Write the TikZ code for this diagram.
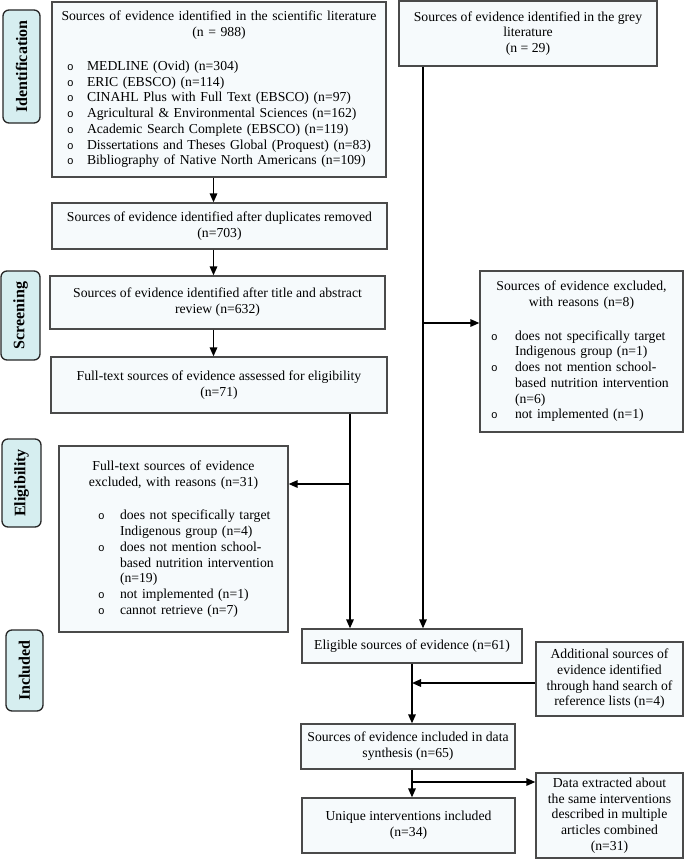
\documentclass[tikz,border=0pt]{standalone}
\usepackage{fontspec}
\setmainfont{Liberation Serif}
\newfontfamily\bulfont{Liberation Mono}
\usetikzlibrary{arrows.meta}
\definecolor{boxfill}{HTML}{F6FAFC}
\definecolor{labfill}{HTML}{D6EEF0}
\definecolor{boxline}{HTML}{4A4A4A}
\newcommand\bul{{\bulfont\fontsize{11}{11}\selectfont o}}
\newcommand\nl{\hfill\break}
\newcommand\bitem[3]{\par\noindent\hangindent=#2\hangafter=1\hspace*{#1}\makebox[\dimexpr#2-#1\relax][l]{\bul}#3}
\newcommand\ttl[1]{{\centering #1\par}\vspace{18pt}}
\begin{document}
\begin{tikzpicture}[x=1pt,y=-1pt, font=\fontsize{13.7}{15.75}\selectfont,
 box/.style={draw=boxline, line width=1.3pt, fill=boxfill, inner sep=0pt, align=center},
 lbox/.style={box, align=left},
 lab/.style={draw=black!85, line width=1.3pt, fill=labfill, rounded corners=6pt, inner sep=0pt, rotate=90, font=\fontsize{16}{16}\selectfont\bfseries},
 arr/.style={line width=1.6pt, -{Triangle[length=9pt,width=7.5pt]}},
 ln/.style={line width=1.6pt}]
\useasboundingbox (0,0) rectangle (685,859);
% phase labels
\node[lab, minimum width=113pt, minimum height=37pt] (L1) at (21.5,66.5) {Identification};
\node[lab, minimum width=89pt, minimum height=39pt] (L2) at (20.5,315.5) {Screening};
\node[lab, minimum width=88pt, minimum height=39pt] (L3) at (21.5,483) {Eligibility};
\node[lab, minimum width=81pt, minimum height=37pt] (L4) at (24.5,670.5) {Included};
% boxes
\node[lbox, minimum width=334pt, minimum height=175pt, text width=334pt] (b1) at (219,89.5) {%
\ttl{Sources of evidence identified in the scientific literature\\(n = 988)}%
\bitem{15pt}{35pt}{MEDLINE (Ovid) (n=304)}%
\bitem{15pt}{35pt}{ERIC (EBSCO) (n=114)}%
\bitem{15pt}{35pt}{CINAHL Plus with Full Text (EBSCO) (n=97)}%
\bitem{15pt}{35pt}{Agricultural \& Environmental Sciences (n=162)}%
\bitem{15pt}{35pt}{Academic Search Complete (EBSCO) (n=119)}%
\bitem{15pt}{35pt}{Dissertations and Theses Global (Proquest) (n=83)}%
\bitem{15pt}{35pt}{Bibliography of Native North Americans (n=109)}\par};
\node[box, minimum width=258pt, minimum height=65pt] (b2) at (528,33.5) {Sources of evidence identified in the grey\\literature\\(n = 29)};
\node[box, minimum width=335pt, minimum height=46pt] (b3) at (219.5,226) {Sources of evidence identified after duplicates removed\\(n=703)};
\node[box, minimum width=335pt, minimum height=53pt] (b4) at (217.5,302.5) {Sources of evidence identified after title and abstract\\review (n=632)};
\node[box, minimum width=336pt, minimum height=56pt] (b5) at (219,385) {Full-text sources of evidence assessed for eligibility\\(n=71)};
\node[lbox, minimum width=229pt, minimum height=186pt, text width=229pt] (b6) at (173.5,539) {%
\ttl{Full-text sources of evidence\\excluded, with reasons (n=31)}%
\bitem{39pt}{61pt}{does not specifically target\nl Indigenous group (n=4)}%
\bitem{39pt}{61pt}{does not mention school-\nl based nutrition intervention\nl (n=19)}%
\bitem{39pt}{61pt}{not implemented (n=1)}%
\bitem{39pt}{61pt}{cannot retrieve (n=7)}\par};
\node[lbox, minimum width=203pt, minimum height=161pt, text width=203pt] (b7) at (581.5,351.5) {%
\ttl{Sources of evidence excluded,\\with reasons (n=8)}%
\bitem{11pt}{35pt}{does not specifically target\nl Indigenous group (n=1)}%
\bitem{11pt}{35pt}{does not mention school-\nl based nutrition intervention\nl (n=6)}%
\bitem{11pt}{35pt}{not implemented (n=1)}\par};
\node[box, minimum width=220pt, minimum height=34pt] (b8) at (412,646) {Eligible sources of evidence (n=61)};
\node[box, minimum width=147pt, minimum height=74pt] (b9) at (609.5,679) {Additional sources of\\evidence identified\\through hand search of\\reference lists (n=4)};
\node[box, minimum width=214pt, minimum height=45pt] (b10) at (408,746.5) {Sources of evidence included in data\\synthesis (n=65)};
\node[box, minimum width=213pt, minimum height=55pt] (b11) at (408.5,825.5) {Unique interventions included\\(n=34)};
\node[box, minimum width=147pt, minimum height=85pt] (b12) at (609.5,815.5) {Data extracted about\\the same interventions\\described in multiple\\articles combined\\(n=31)};
% connectors
\coordinate (xa) at (213.5,0);
\coordinate (xb) at (350,0);
\coordinate (xc) at (423,0);
\coordinate (xd) at (412,0);
\draw[arr] (b1.south -| xa) -- (b3.north -| xa);
\draw[arr] (b3.south -| xa) -- (b4.north -| xa);
\draw[arr] (b4.south -| xa) -- (b5.north -| xa);
\draw[arr] (b5.south -| xb) -- (b8.north -| xb);
\coordinate (jb) at (350,484);
\draw[arr] (jb) -- (jb -| b6.east);
\draw[arr] (b2.south -| xc) -- (b8.north -| xc);
\coordinate (jc) at (423,323);
\draw[arr] (jc) -- (jc -| b7.west);
\draw[arr] (b8.south -| xd) -- (b10.north -| xd);
\coordinate (jd) at (412,683);
\draw[arr] (b9.west |- jd) -- (jd);
\draw[arr] (b10.south -| xd) -- (b11.north -| xd);
\coordinate (je) at (412,782);
\draw[arr] (je) -- (je -| b12.west);
\end{tikzpicture}
\end{document}
